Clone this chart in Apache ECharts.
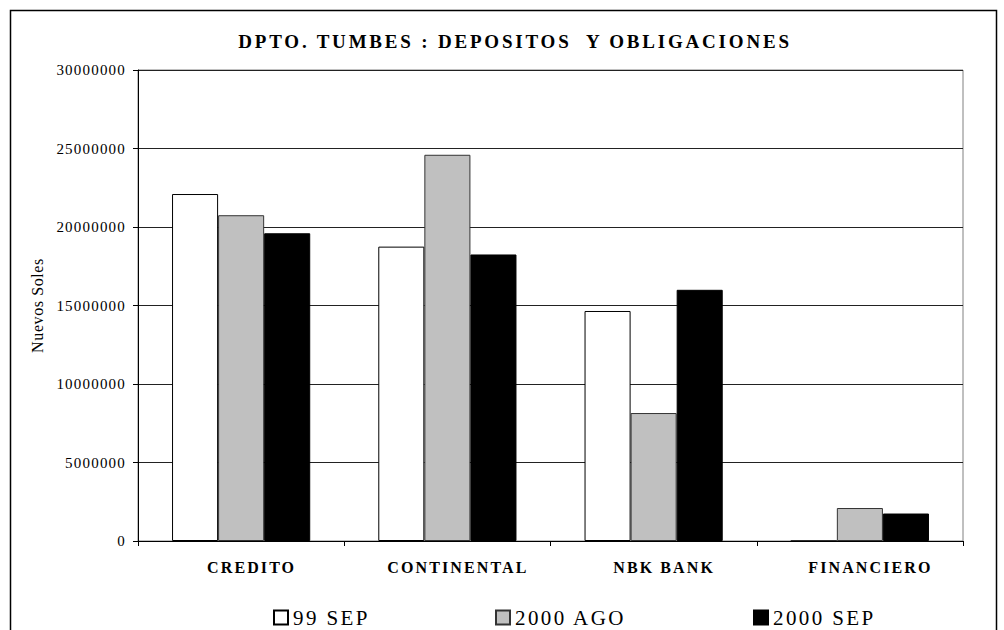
<!DOCTYPE html>
<html>
<head>
<meta charset="utf-8">
<title>DPTO. TUMBES : DEPOSITOS Y OBLIGACIONES</title>
<script src="https://cdn.jsdelivr.net/npm/echarts@6/dist/echarts.min.js"></script>
<style>
    html, body { margin: 0; padding: 0; background: #fff; }
    #chart { width: 1004px; height: 630px; }
</style>
</head>
<body>
<div id="chart"></div>
<script>
    // data
    var titleText = 'DPTO. TUMBES : DEPOSITOS  Y OBLIGACIONES';
    var categories = ['CREDITO', 'CONTINENTAL', 'NBK BANK', 'FINANCIERO'];
    var seriesNames = ['99 SEP', '2000 AGO', '2000 SEP'];
    var sep99 = [22100000, 18750000, 14650000, 0];
    var ago2000 = [20750000, 24600000, 8150000, 2100000];
    var sep2000 = [19600000, 18250000, 16000000, 1750000];
    var yMin = 0, yMax = 30000000, yStep = 5000000;

    var serif = '"Liberation Serif", "Times New Roman", serif';

    var chart = echarts.init(document.getElementById('chart'), null, {renderer: 'svg'});

    function legendAt(name, left) {
        return {
            data: [name],
            left: left,
            top: 607,
            padding: 0,
            icon: 'rect',
            itemWidth: 14,
            itemHeight: 14,
            selectedMode: false,
            textStyle: {fontFamily: serif, fontSize: 21, color: '#000'}
        };
    }

    var option = {
        animation: false,
        backgroundColor: '#fff',
        title: {
            text: titleText,
            left: 515,
            top: 32,
            padding: 0,
            textAlign: 'center',
            textStyle: {fontFamily: serif, fontSize: 19, fontWeight: 'bold', color: '#000'}
        },
        legend: [
            legendAt(seriesNames[0], 273),
            legendAt(seriesNames[1], 495),
            legendAt(seriesNames[2], 753)
        ],
        grid: {
            left: 138, right: 41, top: 70, bottom: 89,
            show: true, borderColor: '#808080', borderWidth: 1
        },
        xAxis: {
            type: 'category',
            data: categories,
            axisLine: {lineStyle: {color: '#000', width: 1}},
            axisTick: {show: true, length: 5, lineStyle: {color: '#000'}},
            axisLabel: {
                fontFamily: serif, fontSize: 16, fontWeight: 'bold', color: '#000',
                margin: 18, padding: [0, 0, 0, 21]
            }
        },
        yAxis: {
            type: 'value',
            min: yMin, max: yMax, interval: yStep,
            name: 'Nuevos Soles',
            nameLocation: 'middle',
            nameRotate: 90,
            nameGap: 93,
            nameTextStyle: {fontFamily: serif, fontSize: 16, color: '#000'},
            axisLine: {show: true, lineStyle: {color: '#000', width: 1}},
            axisTick: {show: true, length: 5, lineStyle: {color: '#000'}},
            axisLabel: {
                fontFamily: serif, fontSize: 15, color: '#000', margin: 12,
                formatter: function (v) { return String(v); }
            },
            splitLine: {lineStyle: {color: '#222', width: 1}}
        },
        series: [
            {
                name: seriesNames[0], type: 'bar', data: sep99,
                barGap: '0%', barCategoryGap: '33%',
                itemStyle: {color: '#fff', borderColor: '#000', borderWidth: 1}
            },
            {
                name: seriesNames[1], type: 'bar', data: ago2000,
                itemStyle: {color: '#c0c0c0', borderColor: '#333', borderWidth: 1}
            },
            {
                name: seriesNames[2], type: 'bar', data: sep2000,
                itemStyle: {color: '#000', borderColor: '#000', borderWidth: 1}
            }
        ],
        graphic: [{
            type: 'rect',
            silent: true,
            shape: {x: 10.5, y: 10.5, width: 986, height: 640},
            style: {fill: 'none', stroke: '#000', lineWidth: 1.5}
        }]
    };

    chart.setOption(option);

    // the original uses wide letter spacing; svg text takes it as an attribute
    function spaceLetters() {
        var texts = document.querySelectorAll('#chart text');
        for (var i = 0; i < texts.length; i++) {
            var t = texts[i];
            var s = t.textContent;
            var ls = 1.2;
            if (s === titleText) ls = 2.8;
            else if (categories.indexOf(s) >= 0) ls = 2.1;
            else if (seriesNames.indexOf(s) >= 0) ls = 2.4;
            else if (s === 'Nuevos Soles') ls = 0.6;
            t.setAttribute('letter-spacing', ls + 'px');
        }
    }
    spaceLetters();
    chart.on('finished', spaceLetters);
</script>
</body>
</html>
